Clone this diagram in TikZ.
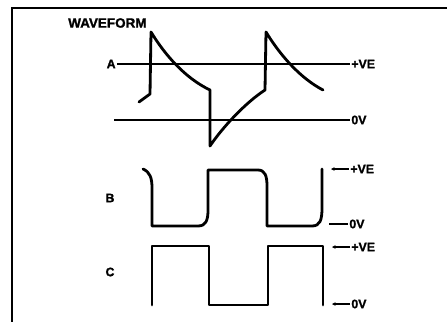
\documentclass[tikz,border=0pt]{standalone}
\usepackage{fontspec}
\setsansfont{Liberation Sans}[BoldFeatures={FakeBold=1.5}]
\usetikzlibrary{arrows.meta}
\begin{document}
\begin{tikzpicture}[x=0.03cm, y=-0.03cm,
    >={Stealth[length=3pt, width=3pt]},
    % Styles
    frame/.style={line width=2.4pt},
    wave/.style={line width=2.4pt, line join=round, line cap=round},
    level/.style={line width=1.6pt},
    tick/.style={<-, line width=1.4pt},
    lbl/.style={font=\sffamily\bfseries\fontsize{10.5}{12}\selectfont, inner sep=1pt},
    title/.style={font=\sffamily\bfseries\fontsize{11.5}{13}\selectfont, inner sep=0pt},
  ]
  \useasboundingbox (0,0) rectangle (447,322);

  % Frame
  \draw[frame] (447,8) -- (12,8) -- (12,322);

  % Title
  \node[title, anchor=west] (title) at (68,23) {WAVEFORM};

  % Waveform A
  \node[lbl, anchor=east] (alabel) at (117,64) {A};
  \node[lbl, anchor=west] (ave) at (350,64) {+VE};
  \node[lbl, anchor=west] (azero) at (350,120) {0V};
  \coordinate (azerostart) at (114,120);
  \draw[level] (alabel) -- (ave);
  \draw[level] (azerostart) -- (azero);
  \draw[wave] (139,102) -- (150,94) -- (151,32)
    .. controls (165,55) and (185,78) .. (210,90) -- (210,146)
    .. controls (222,128) and (245,103) .. (265,90) -- (266,32)
    .. controls (280,55) and (300,78) .. (323,90);

  % Waveform B
  \node[lbl] (blabel) at (110,198) {B};
  \node[lbl, anchor=west] (bve) at (349,169) {+VE};
  \node[lbl, anchor=west] (bzero) at (348,224) {0V};
  \coordinate (bvetick) at (331,169);
  \coordinate (bzerotick) at (329,224);
  \draw[tick] (bvetick) -- (bve);
  \draw[level] (bzerotick) -- (bzero);
  \draw[wave] (143,169) .. controls (150,172) and (152,178) .. (152,188) -- (152,226) -- (198,226)
    .. controls (206,226) and (208,220) .. (208,210) -- (208,170) -- (258,170)
    .. controls (265,170) and (267,176) .. (267,186) -- (267,226) -- (312,226)
    .. controls (320,226) and (322,220) .. (322,208) -- (322,169);

  % Waveform C
  \node[lbl] (clabel) at (110,272) {C};
  \node[lbl, anchor=west] (cve) at (350,247) {+VE};
  \node[lbl, anchor=west] (czero) at (350,304) {0V};
  \coordinate (cvetick) at (332,247);
  \coordinate (czerotick) at (332,304);
  \draw[tick] (cvetick) -- (cve);
  \draw[tick] (czerotick) -- (czero);
  \draw[wave] (152,305) -- (152,246) -- (209,246) -- (209,305) -- (268,305)
    -- (268,246) -- (323,246) -- (323,305);

\end{tikzpicture}
\end{document}
